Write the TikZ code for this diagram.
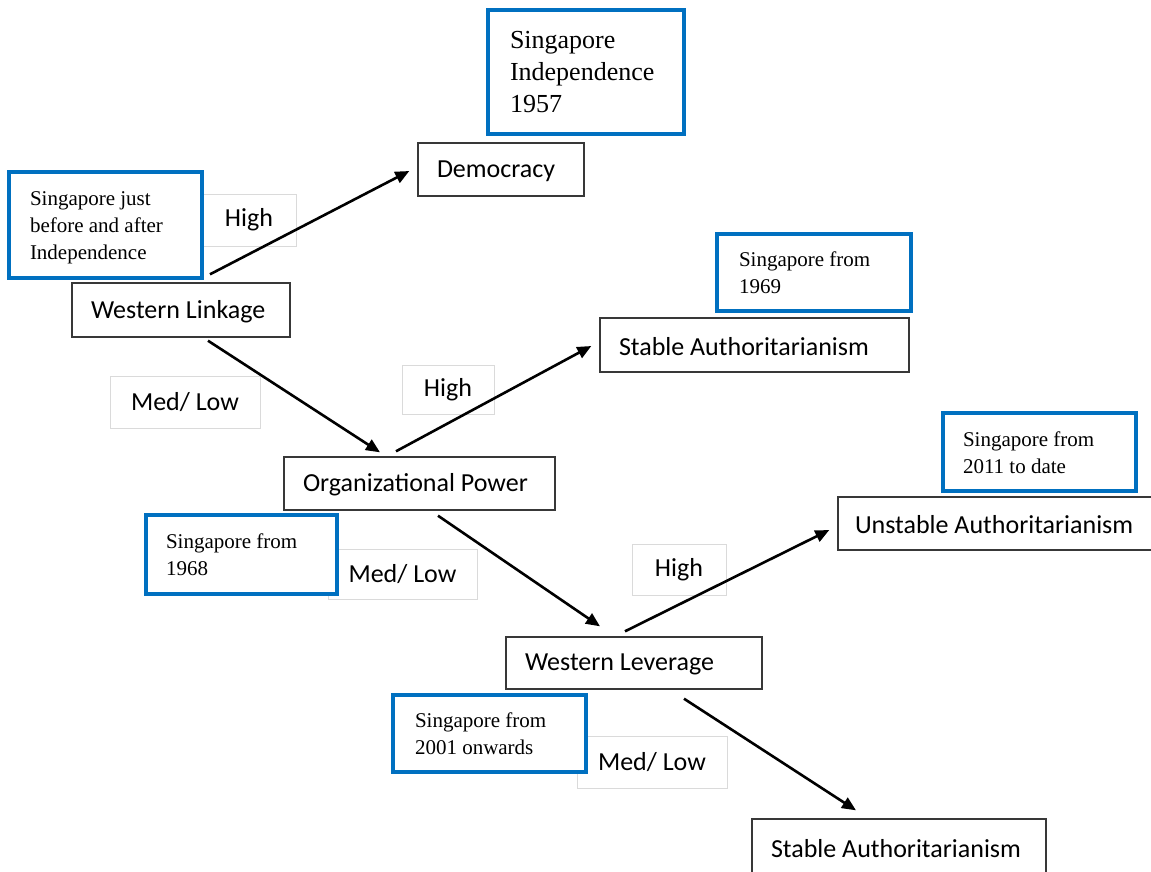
\documentclass[tikz,border=0pt]{standalone}
\usepackage{fontspec}
\newfontfamily\carl{Carlito}
\newfontfamily\tnr{Liberation Serif}
\usetikzlibrary{arrows.meta,calc}
\definecolor{boxblue}{RGB}{0,112,192}
\definecolor{lightgr}{RGB}{218,218,218}
\newcommand{\lbox}[2]{\makebox[#1pt][l]{\raisebox{-1.5pt}[\height][\depth]{#2}}}
\newcommand{\lstack}[2]{\makebox[#1pt][l]{\raisebox{-2.5pt}[\height][\depth]{\begin{tabular}{@{}l@{}}#2\end{tabular}}}}
\begin{document}
\begin{tikzpicture}[x=1pt,y=-1pt,
  bbox/.style={draw=black!78, line width=1.4pt, fill=white,
    inner ysep=0pt, inner xsep=19pt, font=\carl\fontsize{26}{31}\selectfont},
  bluebox/.style={draw=boxblue, line width=4pt, fill=white,
    inner ysep=0pt, font=\tnr\fontsize{21}{27}\selectfont},
  bigblue/.style={bluebox, font=\tnr\fontsize{26}{32}\selectfont},
  lbl/.style={draw=lightgr, line width=0.8pt, fill=white, inner sep=0pt,
    font=\carl\fontsize{26}{31}\selectfont},
  arr/.style={line width=2.6pt, -{Triangle[length=14pt,width=12pt]}}]
\path[use as bounding box, clip] (0,0) rectangle (1151,871);
\fill[white] (0,0) rectangle (1151,871);

% label boxes
\node[lbl, minimum width=94pt, minimum height=52pt] (h1) at (249,220) {High};
\node[lbl, minimum width=150pt, minimum height=52pt] (m1) at (185,402) {Med/ Low};
\node[lbl, minimum width=92pt, minimum height=49pt] (h2) at (448,389.5) {High};
\node[lbl, minimum width=149pt, minimum height=50pt] (m2) at (402.5,574) {Med/ Low};
\node[lbl, minimum width=94pt, minimum height=51pt] (h3) at (679,569.5) {High};
\node[lbl, minimum width=150pt, minimum height=52pt] (m3) at (652,762) {Med/ Low};

% main boxes
\node[bbox, minimum height=53pt] (dem) at (501,169.5) {\lbox{128}{Democracy}};
\node[bbox, minimum height=54pt] (wl) at (181,310) {\lbox{180}{Western Linkage}};
\node[bbox, minimum height=54pt] (sa1) at (754.5,345) {\lbox{271}{Stable Authoritarianism}};
\node[bbox, minimum height=53pt] (op) at (419.5,483.5) {\lbox{233}{Organizational Power}};
\node[bbox, minimum height=53pt, inner xsep=17pt] (ua) at (1000.5,523.5) {\lbox{291}{Unstable Authoritarianism}};
\node[bbox, minimum height=52pt] (wlev) at (634,663) {\lbox{218}{Western Leverage}};
\node[bbox, minimum height=56pt] (sa2) at (899,847) {\lbox{256}{Stable Authoritarianism}};

% blue boxes
\node[bigblue, inner xsep=22pt, minimum height=124pt] (b57) at (586,72)
  {\lstack{152}{Singapore\\Independence\\1957}};
\node[bluebox, inner xsep=21pt, minimum height=106pt] (bjust) at (105.5,225)
  {\lstack{151}{Singapore just\\before and after\\Independence}};
\node[bluebox, inner xsep=22pt, minimum height=77pt] (b69) at (814,272.5)
  {\lstack{150}{Singapore from\\1969}};
\node[bluebox, inner xsep=20pt, minimum height=79pt] (b68) at (241.5,554.5)
  {\lstack{151}{Singapore from\\1968}};
\node[bluebox, inner xsep=20pt, minimum height=78pt] (b11) at (1039.5,452)
  {\lstack{153}{Singapore from\\2011 to date}};
\node[bluebox, inner xsep=22pt, minimum height=77pt] (b01) at (489.5,733.5)
  {\lstack{149}{Singapore from\\2001 onwards}};

% arrows
\draw[arr] ($(wl.north)+(29,-8)$) -- ($(dem.west)+(-8,1.5)$);
\draw[arr] ($(wl.south)+(27,3)$) -- ($(op.north)+(-39.5,-4)$);
\draw[arr] ($(op.north)+(-23.5,-5)$) -- ($(sa1.west)+(-8,1)$);
\draw[arr] ($(op.south)+(18.5,5)$) -- ($(wlev.north)+(-34,-10)$);
\draw[arr] ($(wlev.north)+(-9,-5)$) -- ($(ua.west)+(-8,6.5)$);
\draw[arr] ($(wlev.south)+(50,9)$) -- ($(sa2.north)+(-43,-8)$);
\end{tikzpicture}
\end{document}
